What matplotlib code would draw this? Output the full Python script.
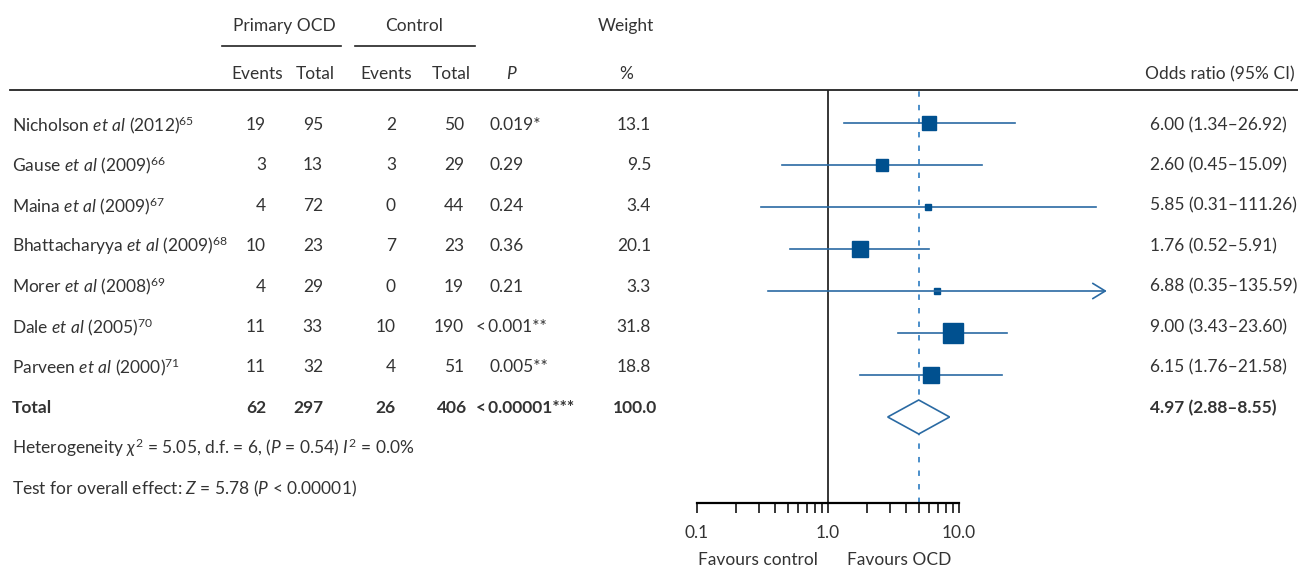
import numpy as np
import matplotlib
matplotlib.use("Agg")
import matplotlib.pyplot as plt
from matplotlib.lines import Line2D
from matplotlib.patches import Polygon

plt.rcParams["font.family"] = ["Lato", "DejaVu Sans"]
plt.rcParams["mathtext.fontset"] = "custom"
plt.rcParams["mathtext.rm"] = "Lato"
plt.rcParams["mathtext.it"] = "Lato:italic"
plt.rcParams["mathtext.bf"] = "Lato:bold"

# data
studies = [r"Nicholson $\mathit{et\ al}$ (2012)$^{65}$",
           r"Gause $\mathit{et\ al}$ (2009)$^{66}$",
           r"Maina $\mathit{et\ al}$ (2009)$^{67}$",
           r"Bhattacharyya $\mathit{et\ al}$ (2009)$^{68}$",
           r"Morer $\mathit{et\ al}$ (2008)$^{69}$",
           r"Dale $\mathit{et\ al}$ (2005)$^{70}$",
           r"Parveen $\mathit{et\ al}$ (2000)$^{71}$"]
ocd_events = [19, 3, 4, 10, 4, 11, 11]
ocd_total = [95, 13, 72, 23, 29, 33, 32]
ctl_events = [2, 3, 0, 7, 0, 10, 4]
ctl_total = [50, 29, 44, 23, 19, 190, 51]
p_values = ["0.019*", "0.29", "0.24", "0.36", "0.21", "<\u20090.001**", "0.005**"]
weights = [13.1, 9.5, 3.4, 20.1, 3.3, 31.8, 18.8]
odds = [6.00, 2.60, 5.85, 1.76, 6.88, 9.00, 6.15]
ci_low = [1.34, 0.45, 0.31, 0.52, 0.35, 3.43, 1.76]
ci_high = [26.92, 15.09, 111.26, 5.91, 135.59, 23.60, 21.58]

total_ocd_events, total_ocd_total = 62, 297
total_ctl_events, total_ctl_total = 26, 406
total_p = "<\u20090.00001***"
total_weight = 100.0
pooled_or, pooled_low, pooled_high = 4.97, 2.88, 8.55

W, H = 1298, 568
fig = plt.figure(figsize=(W / 100, H / 100), dpi=100)


def fx(x):
    return x / W


def fy(y):
    return 1 - y / H


txt = "#333333"
dark_blue = "#00508f"
line_blue = "#2a6aa3"
fs = 12.5


def put(x, y, s, ha="left", **kw):
    fig.text(fx(x), fy(y), s, ha=ha, va="center", fontsize=fs, color=txt, **kw)


# header
put(284, 26, "Primary OCD", ha="center")
put(414, 26, "Control", ha="center")
put(626, 26, "Weight", ha="center")
put(257, 74, "Events", ha="center")
put(315, 74, "Total", ha="center")
put(386, 74, "Events", ha="center")
put(451, 74, "Total", ha="center")
put(512, 74, "$P$", ha="center")
put(626, 74, "%", ha="center")
put(1295, 74, "Odds ratio (95% CI)", ha="right")
for x0, x1 in [(222, 341), (355, 475)]:
    fig.add_artist(Line2D([fx(x0), fx(x1)], [fy(46), fy(46)], color="#222222", lw=1.2))
fig.add_artist(Line2D([fx(10), fx(1298)], [fy(90), fy(90)], color="#222222", lw=1.3))

# table rows
row_y = [125 + 40.4 * i for i in range(8)]
for i, name in enumerate(studies):
    y = row_y[i]
    put(12, y, name)
    put(266, y, str(ocd_events[i]), ha="right")
    put(323, y, str(ocd_total[i]), ha="right")
    put(396, y, str(ctl_events[i]), ha="right")
    put(464, y, str(ctl_total[i]), ha="right")
    put(476 if p_values[i].startswith("<") else 489, y, p_values[i])
    put(651, y, f"{weights[i]:.1f}", ha="right")
    put(1150, y, f"{odds[i]:.2f} ({ci_low[i]:.2f}\u2013{ci_high[i]:.2f})")

y = row_y[7]
put(12, y, "Total", fontweight="bold")
put(266, y, str(total_ocd_events), ha="right", fontweight="bold")
put(323, y, str(total_ocd_total), ha="right", fontweight="bold")
put(396, y, str(total_ctl_events), ha="right", fontweight="bold")
put(467, y, str(total_ctl_total), ha="right", fontweight="bold")
put(476, y, total_p, fontweight="bold")
put(657, y, f"{total_weight:.1f}", ha="right", fontweight="bold")
put(1150, y, f"{pooled_or:.2f} ({pooled_low:.2f}\u2013{pooled_high:.2f})", fontweight="bold")

put(12, 448, r"Heterogeneity $\chi^2$ = 5.05, d.f. = 6, ($P$ = 0.54) $I^2$ = 0.0%")
put(12, 489, r"Test for overall effect: $Z$ = 5.78 ($P$ < 0.00001)")

# forest plot axes: log scale, 131 px per decade
left_px, right_px, top_px, bot_px = 696.5, 1130, 90, 503
ax = fig.add_axes([fx(left_px), fy(bot_px), (right_px - left_px) / W, (bot_px - top_px) / H])
ax.set_xscale("log")
ax.set_xlim(0.1, 0.1 * 10 ** ((right_px - left_px) / 131))
row_px = 42
ax.set_ylim((bot_px - 123) / row_px, (top_px - 123) / row_px)
ax.patch.set_alpha(0)

ax.axvline(1.0, color="black", lw=1.1)
ax.axvline(pooled_or, color="#3d86c6", lw=1.3, ls=(0, (3, 4.5)))

for i in range(len(odds)):
    if i == 4:
        ax.annotate("", xy=(ci_high[i], i), xytext=(ci_low[i], i),
                    arrowprops=dict(arrowstyle="->,head_length=0.9,head_width=0.55",
                                    color=line_blue, lw=1.2, shrinkA=0, shrinkB=0))
    else:
        ax.plot([ci_low[i], ci_high[i]], [i, i], color=line_blue, lw=1.2)
    side = 3.7 * np.sqrt(weights[i]) * 0.72
    ax.plot(odds[i], i, marker="s", ms=side, color=dark_blue, mec=dark_blue)

h = 17 / row_px
ax.add_patch(Polygon([(pooled_low, 7), (pooled_or, 7 - h), (pooled_high, 7), (pooled_or, 7 + h)],
                     closed=True, facecolor="white", edgecolor=line_blue, lw=1.2, zorder=3))

for s in ["top", "right", "left"]:
    ax.spines[s].set_visible(False)
ax.spines["bottom"].set_bounds(0.1, 10)
ax.spines["bottom"].set_linewidth(1.6)
ax.set_yticks([])
ax.set_xticks([0.1, 1, 10])
ax.set_xticklabels(["0.1", "1.0", "10.0"])
minor = [k * 0.1 for k in range(2, 10)] + [k for k in range(2, 10)]
ax.set_xticks(minor, minor=True)
ax.xaxis.set_minor_formatter(plt.NullFormatter())
ax.tick_params(axis="x", which="both", direction="out", length=7, width=1.1,
               labelsize=fs, labelcolor=txt, pad=9)

put(758, 560, "Favours control", ha="center")
put(899, 560, "Favours OCD", ha="center")

fig.savefig("out.png", dpi=100)
